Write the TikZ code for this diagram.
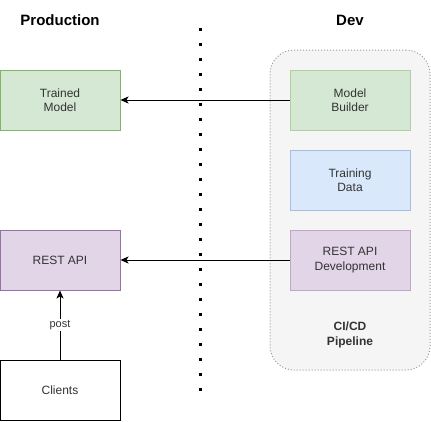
\documentclass[tikz,border=0pt]{standalone}
\usepackage{fontspec}
\setmainfont{Liberation Sans}
\usetikzlibrary{arrows.meta}
\definecolor{gfill}{HTML}{D5E8D4}
\definecolor{gline}{HTML}{82B366}
\definecolor{glight}{HTML}{AFD09F}
\definecolor{bfill}{HTML}{DAE8FC}
\definecolor{blight}{HTML}{A7BEE0}
\definecolor{pfill}{HTML}{E1D5E7}
\definecolor{pline}{HTML}{9673A6}
\definecolor{plight}{HTML}{BEA8CA}
\definecolor{cfill}{HTML}{F5F5F5}
\definecolor{cline}{HTML}{9A9A9A}
\definecolor{txt}{HTML}{333333}
\begin{document}
\begin{tikzpicture}[x=1pt,y=-1pt,
  box/.style={draw, line width=1pt, minimum width=120pt, minimum height=60pt, inner sep=0pt, align=center, text=txt, font=\fontsize{12}{14.4}\selectfont},
  title/.style={font=\fontsize{15}{18}\selectfont\bfseries, text=black},
  arr/.style={line width=1pt, -{Stealth[length=8pt,width=7pt,inset=2pt]}}]
\useasboundingbox (0,0) rectangle (431,421);
% titles
\node[title] (prod) at (60,20) {Production};
\node[title] (dev) at (350,20) {Dev};
% separator
\coordinate (s1) at (200,27.5);
\coordinate (s2) at (200,392);
\draw[line width=3pt, dash pattern=on 3pt off 12pt] (s1) -- (s2);
% container
\node[draw=cline, fill=cfill, dotted, line width=1pt, rounded corners=24pt, minimum width=160pt, minimum height=320pt, inner sep=0pt] (cont) at (350,210) {};
\node[text=txt, font=\fontsize{12}{14.4}\selectfont\bfseries, align=center] (cicd) at (350,335) {CI/CD\\Pipeline};
% boxes
\node[box, fill=gfill, draw=gline] (trained) at (60,100) {Trained\\Model};
\node[box, fill=gfill, draw=glight] (builder) at (350,100) {Model\\Builder};
\node[box, fill=bfill, draw=blight] (data) at (350,180) {Training\\Data};
\node[box, fill=pfill, draw=plight] (restdev) at (350,260) {REST API\\Development};
\node[box, fill=pfill, draw=pline] (rest) at (60,260) {REST API};
\node[box, fill=white, draw=black] (clients) at (60,390) {Clients};
% connectors
\draw[arr] (builder.west) -- (trained.east);
\draw[arr] (restdev.west) -- (rest.east);
\draw[arr] (clients.north) -- node[fill=white, inner sep=1pt, text=txt, font=\fontsize{11}{13}\selectfont] (postlbl) {post} (rest.south);
\end{tikzpicture}
\end{document}
